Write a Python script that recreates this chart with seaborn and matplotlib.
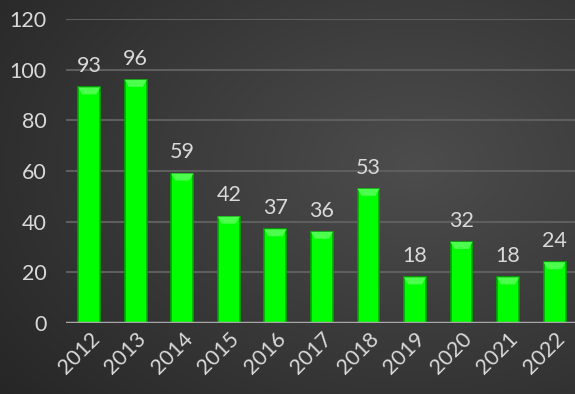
import numpy as np
import pandas as pd
import matplotlib
matplotlib.use("Agg")
import matplotlib.pyplot as plt
import seaborn as sns
from matplotlib.patches import Polygon

years = ["2012", "2013", "2014", "2015", "2016", "2017", "2018", "2019", "2020", "2021", "2022"]
counts = [93, 96, 59, 42, 37, 36, 53, 18, 32, 18, 24]
yticks = [0, 20, 40, 60, 80, 100, 120]

sns.set_theme(style="dark")
plt.rcParams['font.family'] = ['Lato', 'DejaVu Sans']

fig = plt.figure(figsize=(5.75, 3.94), dpi=100)

# background gradient
bg = fig.add_axes([0, 0, 1, 1], zorder=0)
h, w = 394, 575
yy, xx = np.mgrid[0:h, 0:w]
cx, cy = 0.72 * w, 0.42 * h
r = np.sqrt(((xx - cx) / w) ** 2 + ((yy - cy) / h) ** 2)
r = r / r.max()
val = 0.30 - 0.15 * r
img = np.dstack([val, val, val])
bg.imshow(img, aspect="auto", extent=[0, 1, 0, 1], origin="upper")
bg.set_axis_off()

ax = fig.add_axes([66 / 575, 71 / 394, 1 - 66 / 575 + 0.005, (323 - 19) / 394], zorder=1)
ax.patch.set_alpha(0)

df = pd.DataFrame({"year": years, "count": counts})
sns.barplot(data=df, x="year", y="count", ax=ax, color="#00ff00", width=0.47,
            edgecolor="#00a800", linewidth=1.2, saturation=1, zorder=3)

ax.set_ylim(0, 120)
ax.set_yticks(yticks)
ax.set_xlim(-0.5, len(years) - 0.5)
ax.grid(axis="y", color="#5e5e5e", linewidth=1.5, zorder=0)
ax.grid(axis="x", visible=False)
ax.set_axisbelow(True)
for s in ax.spines.values():
    s.set_visible(False)
ax.axhline(0, color="#a6a6a6", linewidth=2.5, zorder=4)

# subtle top bevel derived from bar patches
bev = 120 * 7 / 304
for p in ax.patches:
    x0, wd, ht = p.get_x(), p.get_width(), p.get_height()
    inset = wd * 0.18
    poly = Polygon([(x0, ht), (x0 + wd, ht), (x0 + wd - inset, ht - bev), (x0 + inset, ht - bev)],
                   closed=True, facecolor="#4dff4d", edgecolor="none", zorder=3.5)
    ax.add_patch(poly)

ax.set_xlabel("")
ax.set_ylabel("")
ax.tick_params(axis="y", colors="#d9d9d9", labelsize=15.5, length=0, pad=14)
ax.tick_params(axis="x", colors="#d9d9d9", labelsize=15.5, length=0, pad=4)
plt.setp(ax.get_xticklabels(), rotation=45, ha="right", rotation_mode="anchor")

ax.bar_label(ax.containers[0], labels=[str(v) for v in counts], padding=8, color="#d9d9d9", fontsize=15.5)

fig.savefig("out.png", dpi=100)
